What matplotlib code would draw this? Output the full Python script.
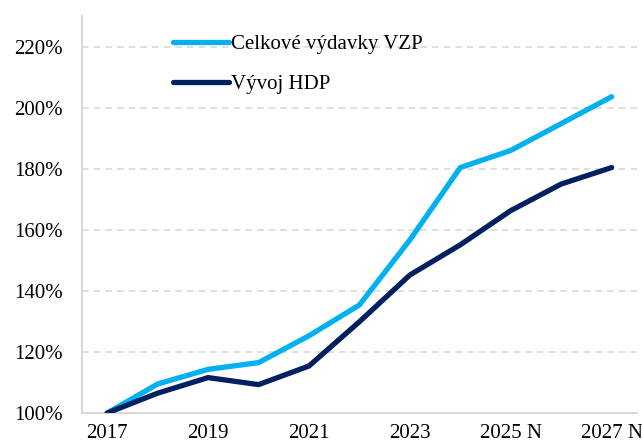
import numpy as np
import matplotlib
matplotlib.use("Agg")
import matplotlib.pyplot as plt
from matplotlib.ticker import FuncFormatter

years = ["2017", "2018", "2019", "2020", "2021", "2022", "2023",
         "2024 N", "2025 N", "2026 N", "2027 N"]
vydavky_vzp = [100, 109.5, 114.3, 116.5, 125.3, 135.4, 156.7, 180.4, 186.0, 194.8, 203.6]
vyvoj_hdp = [100, 106.5, 111.6, 109.3, 115.4, 129.9, 145.2, 155.1, 166.3, 175.0, 180.4]

plt.rcParams['font.family'] = ['Liberation Serif', 'DejaVu Serif']

fig = plt.figure(figsize=(6.42, 4.48), dpi=100)
ax = fig.add_axes([0.1277, 0.0781, 0.8643, 0.8859])

x = np.arange(len(years))
ax.plot(x, vydavky_vzp, color='#00B0F0', lw=3.8, solid_capstyle='round',
        solid_joinstyle='round', label='Celkové výdavky VZP', zorder=3)
ax.plot(x, vyvoj_hdp, color='#002060', lw=3.8, solid_capstyle='round',
        solid_joinstyle='round', label='Vývoj HDP', zorder=3)

ax.set_xlim(-0.5, 10.5)
ax.set_ylim(100, 230)
ax.set_yticks(np.arange(100, 221, 20))
ax.yaxis.set_major_formatter(FuncFormatter(lambda v, p: f"{v:.0f}%"))
ax.set_xticks(x[::2])
ax.set_xticklabels(years[::2])

ax.grid(axis='y', color='#D9D9D9', linestyle=(0, (4, 3)), lw=1.2, zorder=0)
for side in ['top', 'right']:
    ax.spines[side].set_visible(False)
for side in ['left', 'bottom']:
    ax.spines[side].set_color('#D9D9D9')
    ax.spines[side].set_linewidth(1.5)

ax.tick_params(axis='both', length=0, labelsize=15, colors='black')
ax.tick_params(axis='y', pad=14)
ax.tick_params(axis='x', pad=8)

ax.legend(loc='upper left', bbox_to_anchor=(0.131, 1.0), frameon=False,
          fontsize=15, handlelength=2.65, handletextpad=0.1, labelspacing=0.95)

fig.savefig("out.png", dpi=100)
